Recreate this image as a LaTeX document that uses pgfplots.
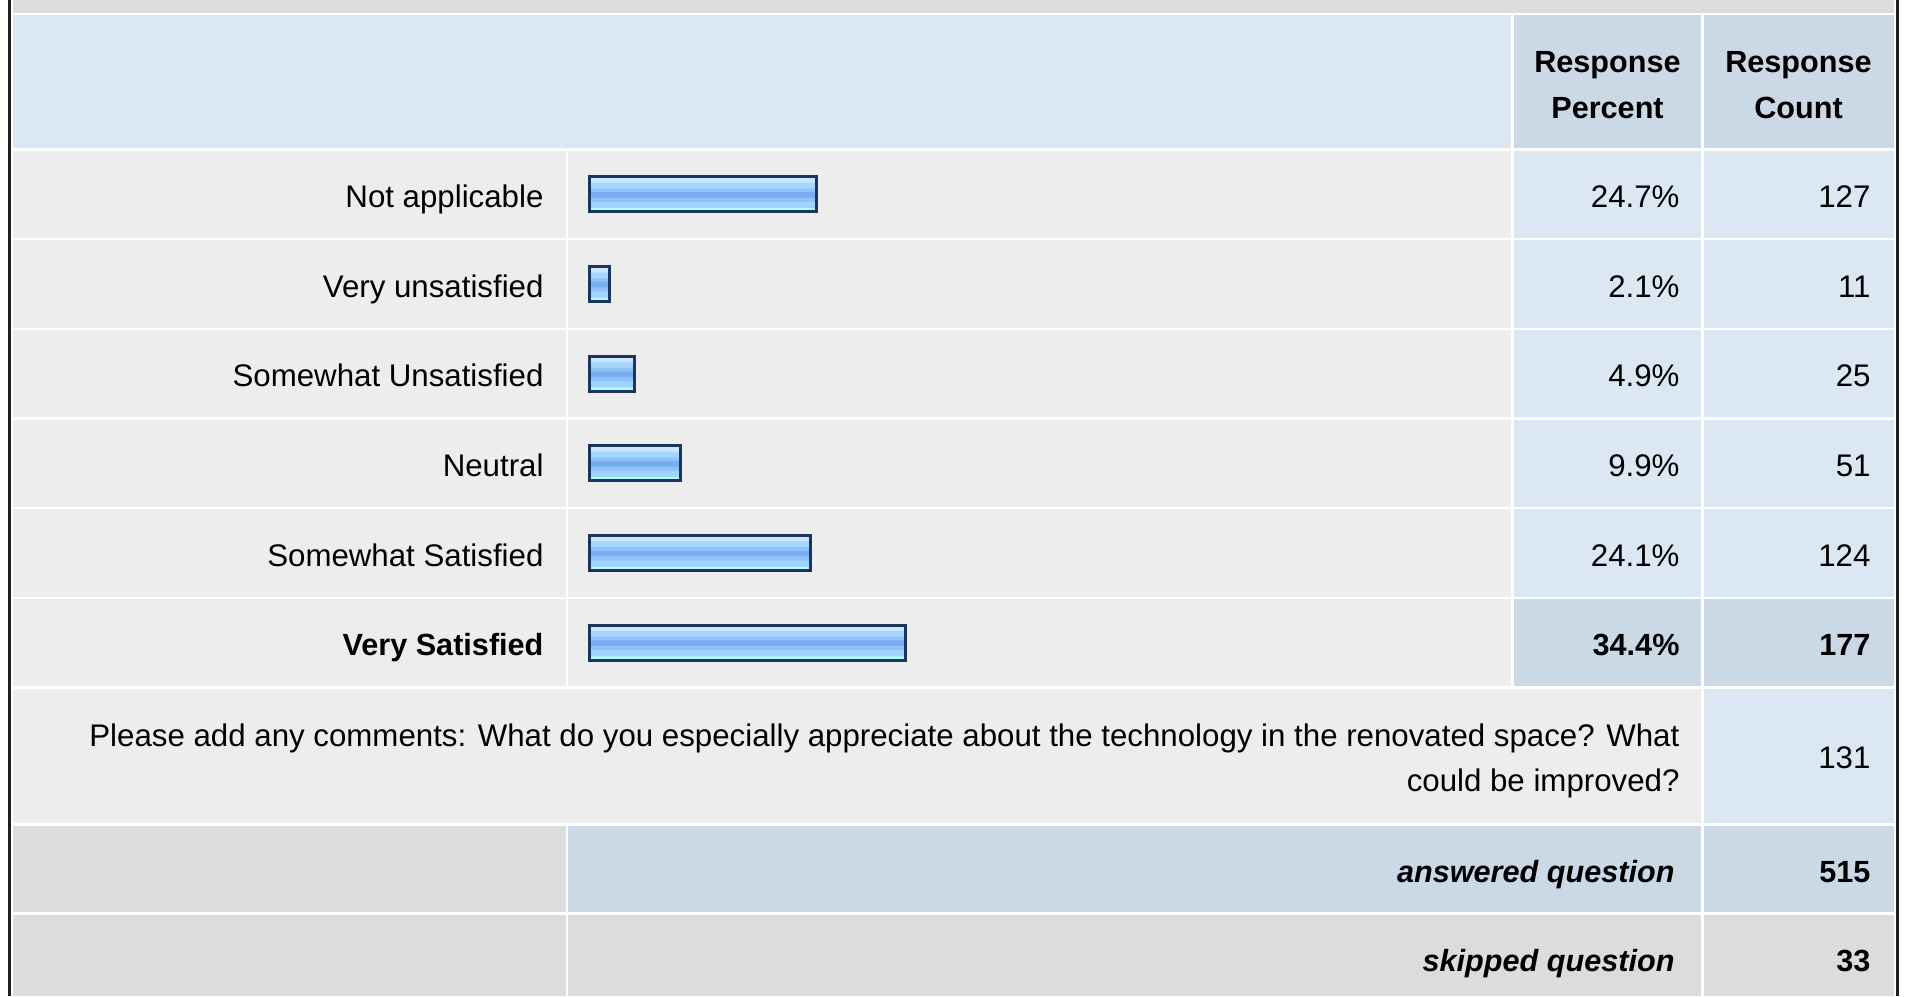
\documentclass[border=0pt]{standalone}
\usepackage{pgfplots}
\pgfplotsset{compat=1.18}
\usepackage{pgfplotstable}
\usepackage{fontspec}
\setmainfont{Liberation Sans}
\definecolor{grayband}{HTML}{DCDCDC}
\definecolor{rowbg}{HTML}{EDEDED}
\definecolor{hdrbg}{HTML}{DCE7F4}
\definecolor{hdrdark}{HTML}{CBD8E6}
\definecolor{cellblue}{HTML}{DCE7F4}
\definecolor{barline}{HTML}{1C355E}
\definecolor{bTop}{HTML}{CCE8FF}
\definecolor{bUp}{HTML}{A6D6FF}
\definecolor{bMd}{HTML}{8EC2FB}
\definecolor{bMid}{HTML}{79ADF0}
\definecolor{bLow}{HTML}{A2D2FF}
\definecolor{bBot}{HTML}{B0FFFF}
\pgfdeclareverticalshading{barshade}{100bp}{color(0bp)=(bBot); color(25bp)=(bBot); color(30.5bp)=(bBot); color(31.5bp)=(bLow); color(39.5bp)=(bLow); color(40.5bp)=(bMd); color(45.5bp)=(bMd); color(46.5bp)=(bMid); color(53.5bp)=(bMid); color(54.5bp)=(bMd); color(58.5bp)=(bMd); color(59.5bp)=(bUp); color(67bp)=(bUp); color(68bp)=(bTop); color(100bp)=(bTop)}
\pgfplotstableread{
idx pct cnt
0 24.7 127
1 2.1 11
2 4.9 25
3 9.9 51
4 24.1 124
5 34.4 177
}\datatable
\newcommand\tf{\fontsize{12.5}{18}\selectfont}
\newcommand\tb{\fontsize{12.25}{18}\selectfont\bfseries}
\begin{document}
\begin{tikzpicture}
\begin{scope}[x=0.4pt,y=-0.4pt]
\fill[white] (0,0) rectangle (1909,996);
\path[use as bounding box] (0,0) rectangle (1909,996);
\fill[black!88] (7.5,0) rectangle (10.5,996);
\fill[black!88] (1895.5,0) rectangle (1898.5,996);
\newcommand\cell[5]{\fill[#5] (#1+1.25,#2+1.25) rectangle (#3-1.25,#4-1.25);}
% top band
\fill[grayband] (13,0) rectangle (1893.5,12.75);
% header
\cell{11.75}{14}{1512.5}{149.5}{hdrbg}
\cell{1512.5}{14}{1702.5}{149.5}{hdrdark}
\cell{1702.5}{14}{1894.75}{149.5}{hdrdark}
% answer rows
\foreach \i in {0,...,5}{
  \pgfmathsetmacro\ya{149.5+89.667*\i}
  \pgfmathsetmacro\yb{149.5+89.667*(\i+1)}
  \cell{11.75}{\ya}{567}{\yb}{rowbg}
  \cell{567}{\ya}{1512.5}{\yb}{rowbg}
  \ifnum\i=5
    \cell{1512.5}{\ya}{1702.5}{\yb}{hdrdark}
    \cell{1702.5}{\ya}{1894.75}{\yb}{hdrdark}
  \else
    \cell{1512.5}{\ya}{1702.5}{\yb}{cellblue}
    \cell{1702.5}{\ya}{1894.75}{\yb}{cellblue}
  \fi
}
% comments row
\cell{11.75}{687.5}{1702.5}{824.5}{rowbg}
\cell{1702.5}{687.5}{1894.75}{824.5}{cellblue}
% answered
\cell{11.75}{824.5}{567}{913.5}{grayband}
\cell{567}{824.5}{1702.5}{913.5}{hdrdark}
\cell{1702.5}{824.5}{1894.75}{913.5}{hdrdark}
% skipped
\fill[grayband] (13,914.75) rectangle (565.75,996);
\fill[grayband] (568.25,914.75) rectangle (1701.25,996);
\fill[grayband] (1703.75,914.75) rectangle (1893.5,996);
% header text
\node[anchor=base,inner sep=0pt,font=\tb] at (1607.5,72) {Response};
\node[anchor=base,inner sep=0pt,font=\tb] at (1607.5,118) {Percent};
\node[anchor=base,inner sep=0pt,font=\tb] at (1798.5,72) {Response};
\node[anchor=base,inner sep=0pt,font=\tb] at (1798.5,118) {Count};
% percent / count text
\foreach \i/\p/\c in {0/24.7/127,1/2.1/11,2/4.9/25,3/9.9/51,4/24.1/124}{
  \pgfmathsetmacro\yc{149.5+89.667*(\i+0.5)+13}
  \node[anchor=base east,inner sep=0pt,font=\tf] at (1680,\yc) {\p\%};
  \node[anchor=base east,inner sep=0pt,font=\tf] at (1871,\yc) {\c};
}
\node[anchor=base east,inner sep=0pt,font=\tb] at (1680,655.7) {34.4\%};
\node[anchor=base east,inner sep=0pt,font=\tb] at (1871,655.7) {177};
% comments
\node[anchor=base east,inner sep=0pt,font=\tf] at (1680,746) {Please add any comments: What do you especially appreciate about the technology in the renovated space? What};
\node[anchor=base east,inner sep=0pt,font=\tf] at (1680,791.5) {could be improved?};
\node[anchor=base east,inner sep=0pt,font=\tf] at (1871,768) {131};
% answered / skipped
\node[anchor=base east,inner sep=0pt,font=\tb\itshape] at (1675,882) {answered question};
\node[anchor=base east,inner sep=0pt,font=\tb] at (1871,882) {515};
\node[anchor=base east,inner sep=0pt,font=\tb\itshape] at (1675,971) {skipped question};
\node[anchor=base east,inner sep=0pt,font=\tb] at (1871,971) {33};
\coordinate (bc) at (1048,418.5);
\end{scope}
\begin{axis}[at={(bc)}, anchor=center, scale only axis,
  width=366.4pt, height=215.2pt,
  xmin=0, xmax=100, ymin=-0.5, ymax=5.5, y dir=reverse,
  axis line style={draw=none}, tick style={draw=none},
  xtick=\empty, ytick={0,1,2,3,4,5},
  yticklabels={Not applicable,Very unsatisfied,Somewhat Unsatisfied,Neutral,Somewhat Satisfied,{\tb Very Satisfied}},
  yticklabel style={font=\tf, anchor=base east, inner sep=0pt, xshift=-18.4pt, yshift=-5.2pt},
  mybar/.style={xbar, bar width=14pt, bar shift=0pt, draw=barline, solid, line width=1.2pt, shading=barshade, mark=none},
  clip=false]
\addplot[mybar, restrict y to domain=-0.2:0.2] table[x=pct,y=idx]{\datatable};
\addplot[mybar, restrict y to domain=0.8:1.2] table[x=pct,y=idx]{\datatable};
\addplot[mybar, restrict y to domain=1.8:2.2] table[x=pct,y=idx]{\datatable};
\addplot[mybar, restrict y to domain=2.8:3.2] table[x=pct,y=idx]{\datatable};
\addplot[mybar, restrict y to domain=3.8:4.2] table[x=pct,y=idx]{\datatable};
\addplot[mybar, restrict y to domain=4.8:5.2] table[x=pct,y=idx]{\datatable};
\end{axis}
\end{tikzpicture}
\end{document}
